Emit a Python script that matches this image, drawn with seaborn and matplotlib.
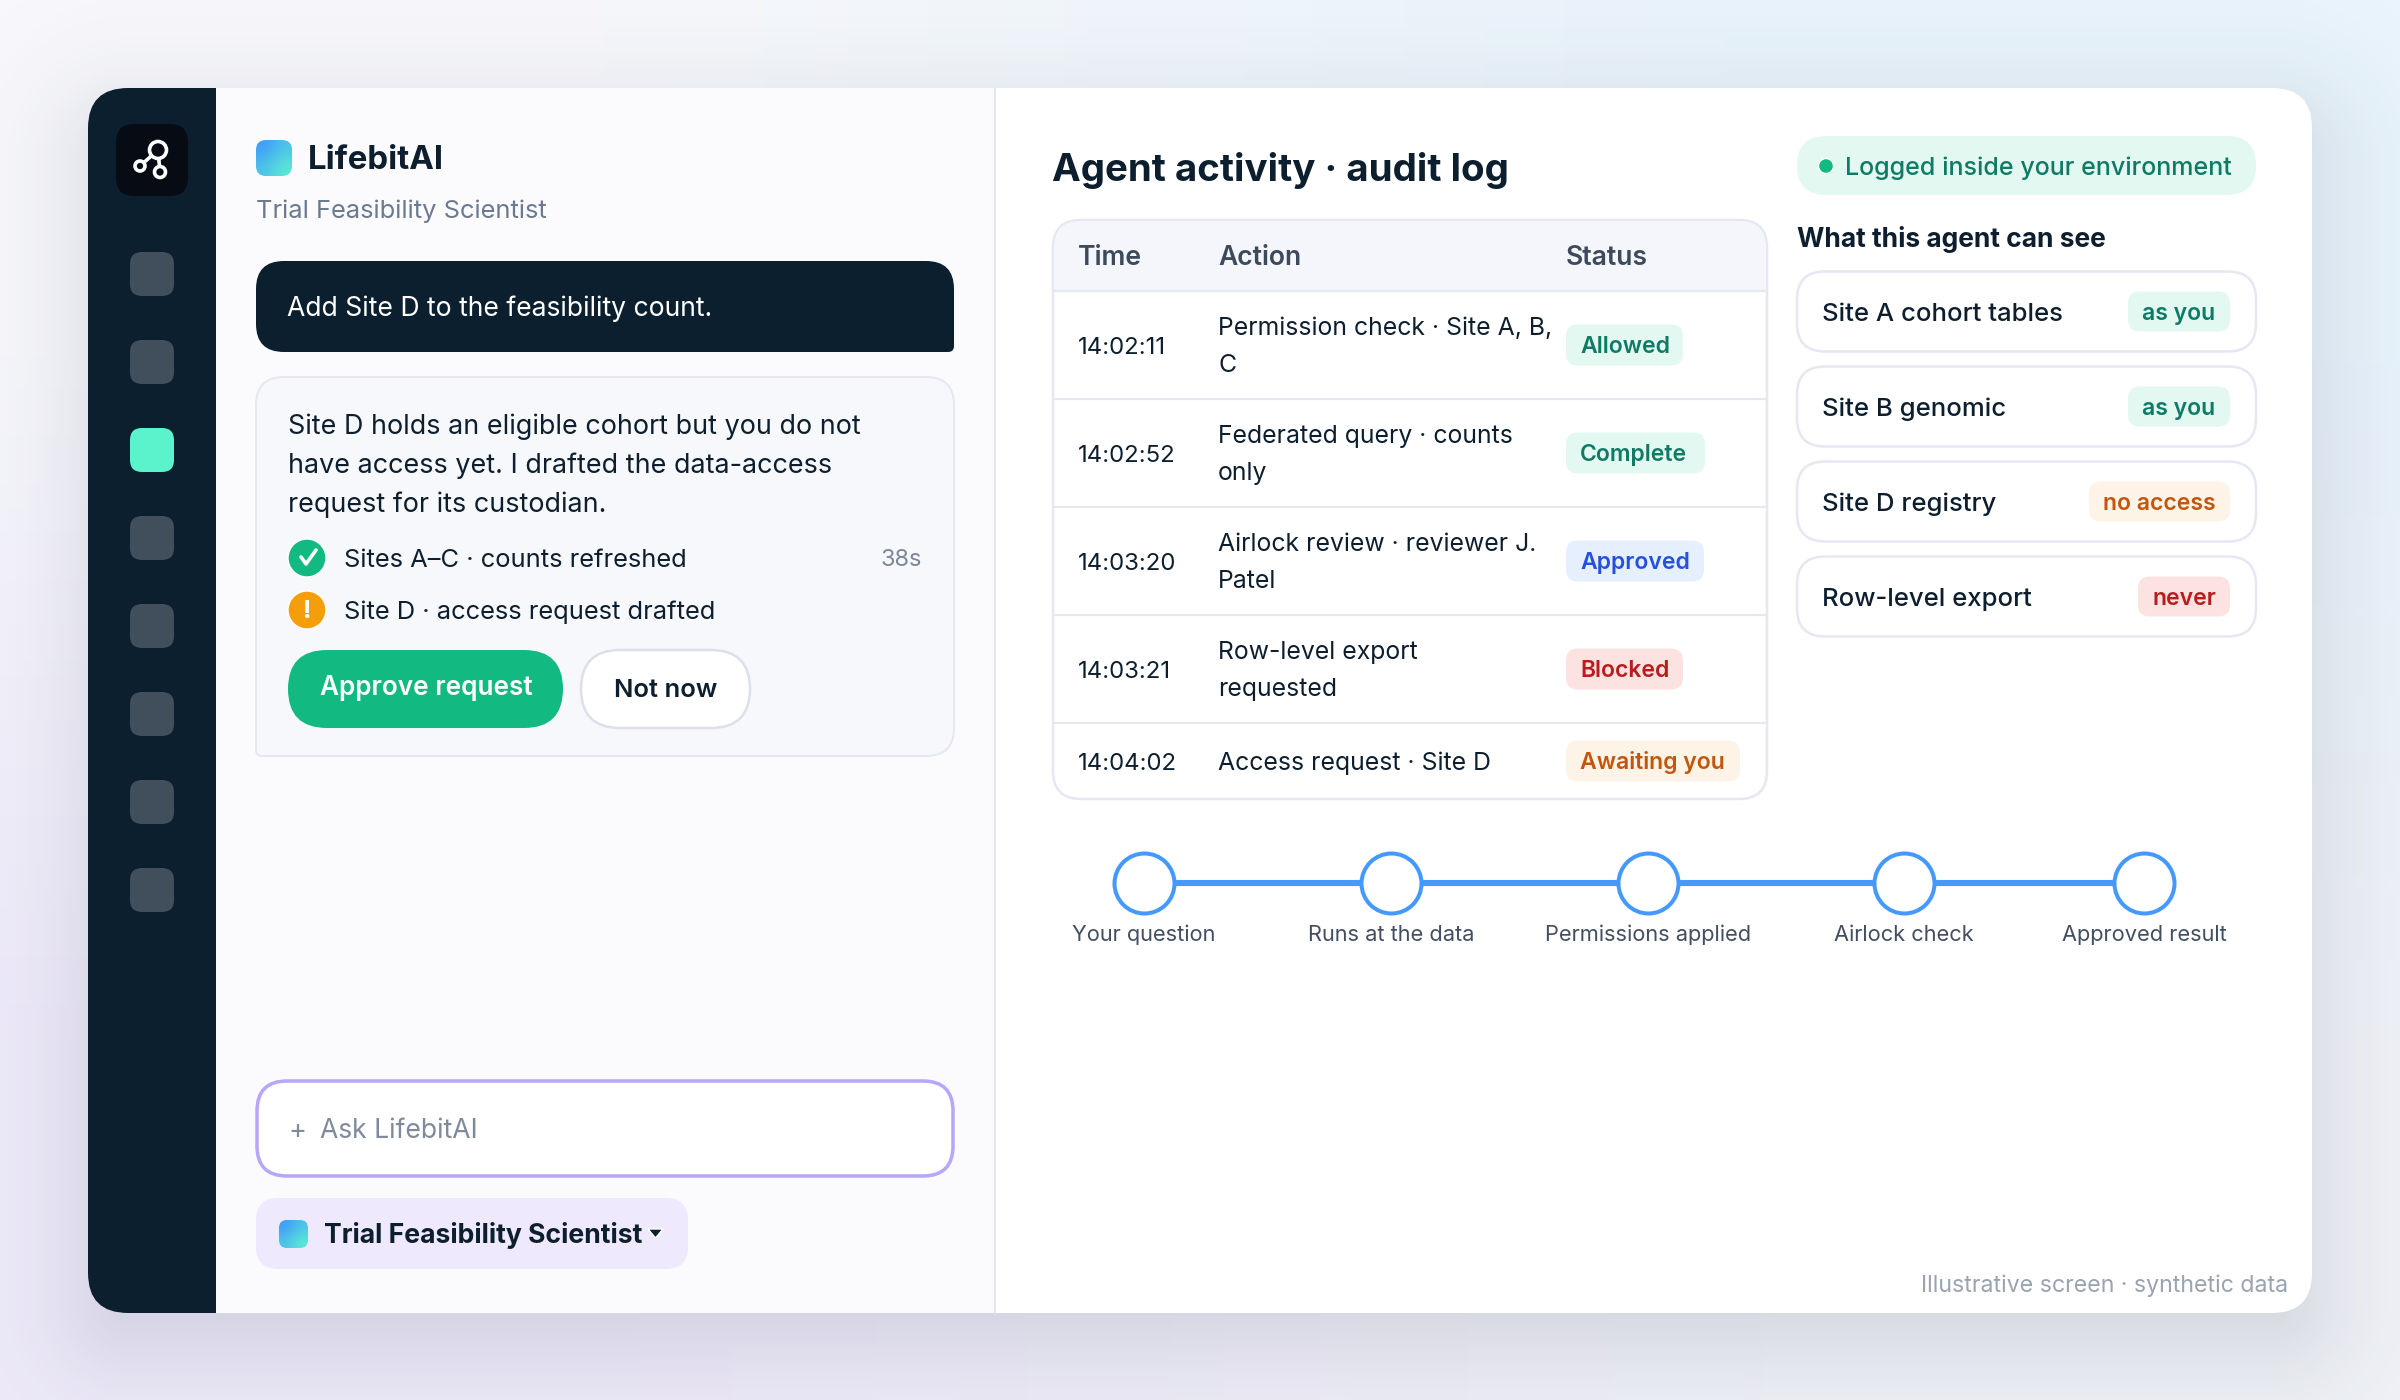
import numpy as np
import pandas as pd
import matplotlib.pyplot as plt
import seaborn as sns
from matplotlib.path import Path
from matplotlib.patches import PathPatch, Circle, Polygon

sns.set_theme(style="white")
plt.rcParams["font.family"] = ["Inter", "Noto Sans", "DejaVu Sans"]

INK = "#0d1f2e"
LINE = "#e6e8f1"
GREEN = ("#e2f8f0", "#0f7a66")
BLUE = ("#e6effe", "#2350dc")
RED = ("#fde2e2", "#b91c1c")
ORANGE = ("#fef3e7", "#c2570c")
TONES = {"ok": GREEN, "info": BLUE, "bad": RED, "wait": ORANGE}

# audit log
log_times = ["14:02:11", "14:02:52", "14:03:20", "14:03:21", "14:04:02"]
log_actions = [
    ["Permission check · Site A, B,", "C"],
    ["Federated query · counts", "only"],
    ["Airlock review · reviewer J.", "Patel"],
    ["Row-level export", "requested"],
    ["Access request · Site D"],
]
log_status = ["Allowed", "Complete", "Approved", "Blocked", "Awaiting you"]
log_tones = ["ok", "ok", "info", "bad", "wait"]
log_badge_right = [1683, 1705, 1704, 1683, 1740]
log_row_y = [345, 453, 561, 669, 761]
log_rules = [399, 507, 615, 723]

# access list
scope_names = ["Site A cohort tables", "Site B genomic", "Site D registry", "Row-level export"]
scope_labels = ["as you", "as you", "no access", "never"]
scope_tones = ["ok", "ok", "wait", "bad"]
scope_badge_left = [2128, 2128, 2089, 2138]
scope_top = [271.5, 366.5, 461.5, 556.5]

# pipeline
step_names = ["Your question", "Runs at the data", "Permissions applied", "Airlock check", "Approved result"]
step_x = [1144, 1391, 1648, 1904, 2144]
step_y = [883, 883, 883, 883, 883]

# sidebar
nav_y = [274, 362, 450, 538, 626, 714, 802, 890]
nav_active = 2

message_lines = [
    "Site D holds an eligible cohort but you do not",
    "have access yet. I drafted the data-access",
    "request for its custodian.",
]


def box(ax, x0, y0, x1, y1, r=0, fc="white", ec="none", lw=0, z=2, alpha=None):
    # r is one radius or (top left, top right, bottom right, bottom left)
    tl, tr, br, bl = (r, r, r, r) if np.isscalar(r) else r
    v = [(x0 + tl, y0), (x1 - tr, y0), (x1, y0), (x1, y0 + tr), (x1, y1 - br), (x1, y1),
         (x1 - br, y1), (x0 + bl, y1), (x0, y1), (x0, y1 - bl), (x0, y0 + tl), (x0, y0),
         (x0 + tl, y0), (x0 + tl, y0)]
    c = [Path.MOVETO, Path.LINETO, Path.CURVE3, Path.CURVE3, Path.LINETO, Path.CURVE3, Path.CURVE3,
         Path.LINETO, Path.CURVE3, Path.CURVE3, Path.LINETO, Path.CURVE3, Path.CURVE3, Path.CLOSEPOLY]
    p = PathPatch(Path(v, c), fc=fc, ec=ec, lw=lw * 0.72, zorder=z, alpha=alpha)
    ax.add_patch(p)
    return p


def label(ax, x, y, s, size, color=INK, weight="normal", ha="left", z=6):
    # size in image pixels, y is the visual middle of the line
    return ax.text(x, y + size * 0.36, s, fontsize=size * 0.72, color=color,
                   fontweight=weight, ha=ha, va="baseline", zorder=z)


def gradient_box(ax, x0, y0, x1, y1, r):
    g = np.array([[0.0, 0.5], [0.5, 1.0]])
    im = ax.imshow(g, extent=(x0, x1, y1, y0), cmap=sns.blend_palette(["#3f9bfa", "#5cebd4"], as_cmap=True),
                   interpolation="bicubic", aspect="auto", zorder=4, vmin=0, vmax=1)
    im.set_clip_path(box(ax, x0, y0, x1, y1, r, fc="none", z=3))


def badge(ax, x0, x1, y, text, tone, size=23, h=41, pad=14):
    fill, ink = TONES[tone]
    box(ax, x0, y - h / 2, x1, y + h / 2, 12, fc=fill, z=4)
    label(ax, x0 + pad, y, text, size, color=ink, weight="semibold")


fig = plt.figure(figsize=(24, 14), dpi=100)
ax = fig.add_axes([0, 0, 1, 1])

# page background
bg = np.array([[[0.973, 0.976, 0.992], [0.914, 0.957, 0.992]],
               [[0.937, 0.918, 0.984], [0.945, 0.95, 0.972]]])
ax.imshow(bg, extent=(0, 2400, 1400, 0), interpolation="bilinear", aspect="auto", zorder=0)

# soft card shadow, faded from the distance to a rounded box
yy, xx = np.mgrid[0:1400:2, 0:2400:2]
qx = np.abs(xx - 1200) - (1112 - 40)
qy = np.abs(yy - 730) - (612 - 40)
dist = np.hypot(np.maximum(qx, 0), np.maximum(qy, 0)) + np.minimum(np.maximum(qx, qy), 0) - 40
shade = np.zeros(dist.shape + (4,))
shade[..., :3] = [0.11, 0.17, 0.27]
shade[..., 3] = 0.17 / (1 + np.exp(np.clip(dist / 40, -30, 30)))
ax.imshow(shade, extent=(0, 2400, 1400, 0), interpolation="bilinear", aspect="auto", zorder=1)

# panels
box(ax, 88, 88, 2312, 1313, 40, fc="white", z=2)
box(ax, 216, 88, 996, 1313, 0, fc="#fbfbfe", z=2)
box(ax, 88, 88, 216, 1313, (40, 0, 0, 40), fc="#0b1f2e", z=3)
ax.plot([995, 995], [88, 1313], color=LINE, lw=1.5, zorder=3)

# sidebar
box(ax, 116, 124, 188, 196, 18, fc="#070c14", z=4)
ax.plot([140, 158], [166, 150], color="white", lw=2.6, zorder=5)
ax.plot([158, 160], [150, 172], color="white", lw=2.6, zorder=5)
for cx, cy, rad in [(158, 150, 8.5), (140, 166, 5), (160, 172, 5.5)]:
    ax.add_patch(Circle((cx, cy), rad, fc="#070c14", ec="white", lw=2.6, zorder=6))
for i, y in enumerate(nav_y):
    box(ax, 130, y - 22, 174, y + 22, 12, fc="#5bf3cc" if i == nav_active else "#414f5c", z=4)

# left panel
gradient_box(ax, 256, 140, 292, 176, 10)
label(ax, 308, 157, "LifebitAI", 33, weight="bold")
label(ax, 256, 209, "Trial Feasibility Scientist", 25.5, color="#6b7a90")

box(ax, 256, 261, 954, 352, (28, 28, 6, 28), fc="#0b1f2e", z=4)
label(ax, 287, 306, "Add Site D to the feasibility count.", 26.5, color="white")

box(ax, 256, 377, 954, 756, (28, 28, 28, 6), fc="#f7f8fc", ec=LINE, lw=2, z=4)
for y, line in zip([424, 463, 502], message_lines):
    label(ax, 288, y, line, 26.9)

ax.add_patch(Circle((307, 558), 19, fc="#12b981", zorder=5))
ax.plot([301, 306, 316], [557, 564, 550], color="white", lw=2.6, zorder=6)
label(ax, 344, 558, "Sites A–C · counts refreshed", 25.5)
label(ax, 922, 558, "38s", 23.5, color="#7b8799", ha="right")
ax.add_patch(Circle((307, 610), 19, fc="#f59e0b", zorder=5))
label(ax, 307, 609, "!", 25, color="white", weight="bold", ha="center")
label(ax, 344, 610, "Site D · access request drafted", 25.5)

box(ax, 288, 650, 563, 728, 39, fc="#12b981", z=4)
label(ax, 426, 686, "Approve request", 26.2, color="white", weight="semibold", ha="center")
box(ax, 581, 650, 750, 728, 39, fc="white", ec="#dddfea", lw=2.5, z=4)
label(ax, 666, 688, "Not now", 25.6, weight="semibold", ha="center")

box(ax, 257, 1081, 953, 1176, 30, fc="white", ec="#b8a6fb", lw=3.5, z=4)
label(ax, 288, 1128, "+", 27, color="#7f8a9b")
label(ax, 320, 1128, "Ask LifebitAI", 26.5, color="#7f8a9b")

box(ax, 256, 1198, 688, 1269, 22, fc="#efe9fd", z=4)
gradient_box(ax, 279, 1220, 308, 1248, 8)
label(ax, 324, 1233, "Trial Feasibility Scientist", 26.6, weight="bold")
ax.add_patch(Polygon([(648, 1229), (663, 1229), (655.5, 1238)], fc=INK, zorder=6))

# audit log heading and table
label(ax, 1052, 167, "Agent activity · audit log", 38.5, weight="bold")
box(ax, 1053, 220, 1767, 799, 28, fc="white", ec=LINE, lw=2.5, z=3)
box(ax, 1054, 221, 1766, 291, (27, 27, 0, 0), fc="#f5f6fb", z=3)
ax.plot([1054, 1766], [291, 291], color=LINE, lw=1.6, zorder=4)
for y in log_rules:
    ax.plot([1054, 1766], [y, y], color=LINE, lw=1.6, zorder=4)
for x, head in zip([1078, 1218, 1566], ["Time", "Action", "Status"]):
    label(ax, x, 255, head, 26.5, color="#3c4a5c", weight="semibold")

for t, act, st, tone, right, y in zip(log_times, log_actions, log_status, log_tones, log_badge_right, log_row_y):
    label(ax, 1078, y, t, 24)
    offs = [-19, 18] if len(act) == 2 else [0]
    for o, line in zip(offs, act):
        label(ax, 1218, y + o, line, 24.8)
    badge(ax, 1566, right, y, st, tone)

# status pill and access list
box(ax, 1797, 136, 2256, 195, 29.5, fc=GREEN[0], z=3)
ax.add_patch(Circle((1826, 166), 7.5, fc="#12b981", zorder=5))
label(ax, 1845, 166, "Logged inside your environment", 25.1, color=GREEN[1], weight="medium")
label(ax, 1797, 237.5, "What this agent can see", 26.4, weight="bold")
for name, txt, tone, left, top in zip(scope_names, scope_labels, scope_tones, scope_badge_left, scope_top):
    box(ax, 1797, top, 2256, top + 80, 28, fc="white", ec=LINE, lw=2.5, z=3)
    label(ax, 1822.5, top + 40, name, 25.7, weight="medium")
    badge(ax, left, 2230, top + 40, txt, tone, h=40)

# pipeline steps
steps = pd.DataFrame({"x": step_x, "y": step_y, "step": step_names})
sns.lineplot(data=steps, x="x", y="y", color="#4499ff", linewidth=4.4, estimator=None,
             ax=ax, zorder=4, legend=False)
sns.scatterplot(data=steps, x="x", y="y", s=(60 * 0.72) ** 2, facecolor="white", edgecolor="#4499ff",
                linewidth=2.9, ax=ax, zorder=5, legend=False)
for x, name in zip(step_x, step_names):
    label(ax, x, 933, name, 21.8, color="#424e62", ha="center")

label(ax, 2288, 1284, "Illustrative screen · synthetic data", 23.1, color="#9aa3b0", ha="right")

ax.set_xlim(0, 2400)
ax.set_ylim(1400, 0)
ax.set_axis_off()
fig.savefig("out.png", dpi=100)
